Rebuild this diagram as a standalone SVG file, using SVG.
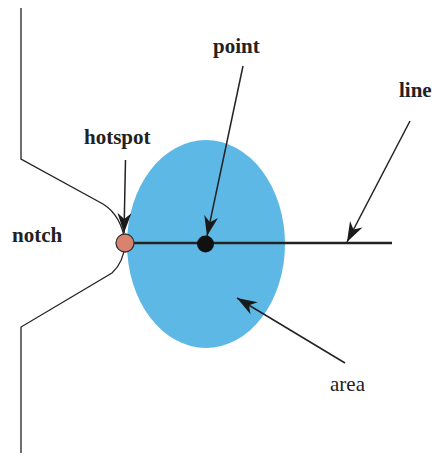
<svg xmlns="http://www.w3.org/2000/svg" width="436" height="453" viewBox="0 0 436 453">
<style>
.lbl{font-family:"Liberation Serif","Times New Roman",serif;font-size:21px;font-weight:bold;fill:#222}
.ptr{stroke:#222;stroke-width:1.5;fill:none;marker-end:url(#barb)}
.outline{stroke:#222;stroke-width:1.3;fill:none}
</style>
<defs>
<marker id="barb" markerUnits="userSpaceOnUse" markerWidth="26" markerHeight="18" viewBox="-22 -9 24 18" refX="0" refY="0" orient="auto">
<path d="M0,0 L-20,-7 L-14,0 L-20,7 Z" fill="#1a1a1a"/>
</marker>
</defs>
<rect width="436" height="453" fill="#fff"/>
<g id="notch">
<path class="outline" d="M21,8 V159 L103,204 Q122,216 125,243 Q124,262 112,273 L21,327 V453"/>
<text class="lbl" x="12" y="242">notch</text>
</g>
<g id="area">
<ellipse cx="206" cy="244" rx="79" ry="104" fill="#5eb8e6"/>
<text class="lbl" x="330" y="391" style="font-weight:normal">area</text>
</g>
<g id="line">
<line x1="125" y1="243" x2="392" y2="243" stroke="#222" stroke-width="2.6"/>
<text class="lbl" x="399" y="97">line</text>
</g>
<g id="point">
<circle cx="205.5" cy="244" r="8.5" fill="#111"/>
<text class="lbl" x="213" y="53">point</text>
</g>
<g id="hotspot">
<circle cx="125" cy="243" r="9" fill="#d9836e" stroke="#333" stroke-width="1.3"/>
<text class="lbl" x="84" y="144">hotspot</text>
</g>
<g id="connectors">
<line class="ptr" x1="125.5" y1="160" x2="124" y2="233"/>
<line class="ptr" x1="243" y1="66" x2="207" y2="236"/>
<line class="ptr" x1="410" y1="121" x2="347" y2="242"/>
<line class="ptr" x1="345" y1="363" x2="237" y2="298"/>
</g>
</svg>
